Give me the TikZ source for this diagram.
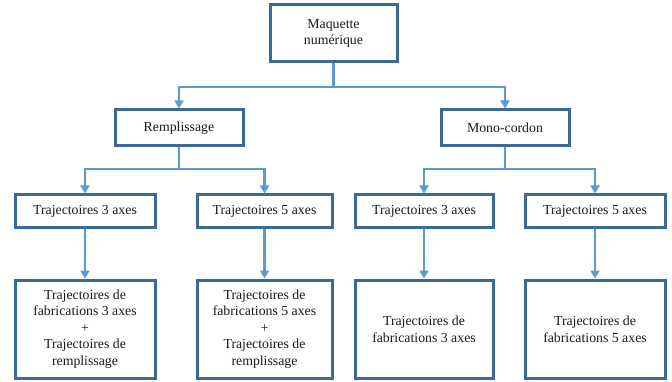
\documentclass[tikz,border=0pt]{standalone}
\usepackage{fontspec}
\setmainfont{Liberation Serif}
\usetikzlibrary{arrows.meta}
\definecolor{boxblue}{HTML}{3A6A98}
\definecolor{linkblue}{HTML}{5B9BD5}
\begin{document}
\begin{tikzpicture}[x=1pt,y=-1pt,
  box/.style={draw=boxblue,line width=3pt,fill=white,align=center,inner sep=0pt,
    font=\fontsize{13.8}{16.6}\selectfont,text=black!90},
  conn/.style={draw=linkblue,line width=2.6pt,-{Triangle[length=8pt,width=9pt]}}]
\useasboundingbox (0,0) rectangle (672,382);
\node[box,minimum width=127pt,minimum height=57pt] (top) at (333.5,33.5) {Maquette\\numérique};
\node[box,minimum width=128pt,minimum height=36pt] (rem) at (179,128) {Remplissage};
\node[box,minimum width=128pt,minimum height=36pt] (mono) at (505,128) {Mono-cordon};
\node[box,minimum width=140pt,minimum height=33pt] (a3) at (85,211.5) {Trajectoires 3 axes};
\node[box,minimum width=135pt,minimum height=33pt] (a5) at (264.5,211.5) {Trajectoires 5 axes};
\node[box,minimum width=138pt,minimum height=33pt] (b3) at (424,211.5) {Trajectoires 3 axes};
\node[box,minimum width=140pt,minimum height=33pt] (b5) at (595,211.5) {Trajectoires 5 axes};
\node[box,minimum width=140pt,minimum height=98pt] (fa3) at (85,329) {Trajectoires de\\fabrications 3 axes\\+\\Trajectoires de\\remplissage};
\node[box,minimum width=135pt,minimum height=98pt] (fa5) at (264.5,329) {Trajectoires de\\fabrications 5 axes\\+\\Trajectoires de\\remplissage};
\node[box,minimum width=138pt,minimum height=98pt] (fb3) at (424,329) {Trajectoires de\\fabrications 3 axes};
\node[box,minimum width=140pt,minimum height=98pt] (fb5) at (595,329) {Trajectoires de\\fabrications 5 axes};
\coordinate (j0) at (333.5,87);
\coordinate (j1) at (179,169);
\coordinate (j2) at (505,169);
\draw[conn] (top.south) -- (j0) -| (rem.north);
\draw[conn] (j0) -| (mono.north);
\draw[conn] (rem.south) -- (j1) -| (a3.north);
\draw[conn] (j1) -| (a5.north);
\draw[conn] (mono.south) -- (j2) -| (b3.north);
\draw[conn] (j2) -| (b5.north);
\draw[conn] (a3.south) -- (fa3.north);
\draw[conn] (a5.south) -- (fa5.north);
\draw[conn] (b3.south) -- (fb3.north);
\draw[conn] (b5.south) -- (fb5.north);
\end{tikzpicture}
\end{document}
